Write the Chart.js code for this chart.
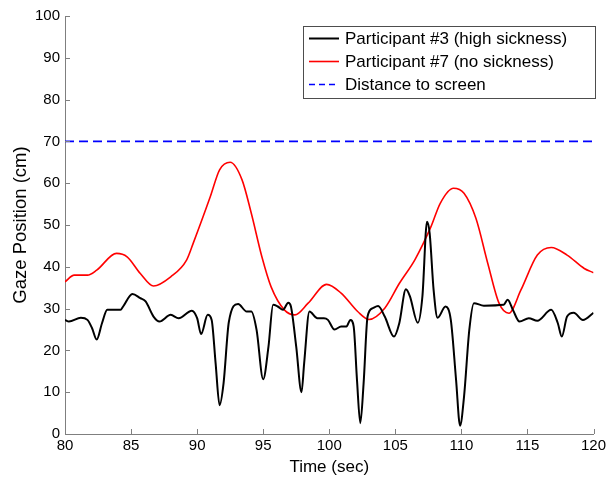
<!DOCTYPE html>
<html>
<head>
<meta charset="utf-8">
<script src="https://cdn.jsdelivr.net/npm/chart.js@4/dist/chart.umd.min.js"></script>
<style>
  html, body { margin: 0; padding: 0; background: #fff; }
  #wrap { width: 609px; height: 479px; }
</style>
</head>
<body>
<div id="wrap"><canvas id="c" width="609" height="479"></canvas></div>
<script>
// ---- data ----
const blackTime = [80.0, 80.3, 81.2, 81.7, 82.05, 82.4, 82.8, 83.2, 84.2, 84.4, 85.1, 85.7, 86.1, 86.7, 87.15, 88.0, 88.6, 89.6, 90.0, 90.3, 90.8, 91.1, 91.4, 91.7, 92.0, 92.4, 93.1, 93.75, 94.1, 94.5, 95.0, 95.4, 95.75, 96.1, 96.5, 96.9, 97.1, 97.5, 97.9, 98.1, 98.5, 99.1, 99.6, 99.9, 100.4, 100.9, 101.3, 101.6, 101.85, 102.1, 102.35, 102.6, 102.9, 103.3, 103.7, 104.2, 104.9, 105.3, 105.8, 106.1, 106.7, 107.05, 107.4, 107.6, 107.9, 108.2, 108.8, 109.2, 109.6, 109.9, 110.2, 110.6, 110.95, 111.7, 113.2, 113.5, 113.9, 114.4, 115.1, 115.75, 116.8, 117.3, 117.6, 118.0, 118.5, 119.2, 120.0];
const blackGaze = [27.3, 26.9, 27.8, 27.3, 25.3, 22.6, 26.5, 29.7, 29.7, 30.5, 33.5, 32.5, 31.7, 28.1, 26.9, 28.5, 27.7, 29.5, 27.7, 23.9, 28.5, 27.3, 16.9, 6.9, 12.1, 26.8, 31.1, 29.3, 29.3, 24.9, 13.1, 20.9, 30.9, 30.5, 29.7, 31.4, 30.5, 20.9, 10.0, 16.9, 29.3, 27.7, 27.7, 27.3, 25.0, 25.7, 25.7, 27.3, 25.7, 12.9, 2.6, 12.1, 28.1, 30.1, 30.6, 28.1, 23.3, 26.5, 34.6, 33.0, 26.6, 32.9, 50.8, 48.0, 34.4, 27.8, 30.5, 27.3, 12.9, 2.0, 8.9, 24.9, 31.3, 30.7, 30.9, 32.1, 29.7, 26.9, 27.7, 27.1, 29.7, 26.5, 23.3, 28.1, 29.0, 27.3, 29.0];

const redTime = [80.0, 80.7, 81.7, 82.4, 83.9, 84.7, 85.7, 86.7, 88.0, 89.2, 89.7, 91.0, 91.7, 92.5, 93.4, 94.1, 94.9, 95.6, 96.6, 97.4, 98.4, 99.8, 100.9, 102.15, 103.0, 104.2, 105.3, 106.5, 107.7, 108.4, 109.4, 110.2, 111.1, 112.0, 112.85, 113.6, 114.5, 115.75, 116.8, 118.0, 119.3, 120.0];
const redGaze = [36.4, 38.0, 38.0, 39.2, 43.2, 42.4, 38.4, 35.4, 37.6, 41.6, 45.6, 56.8, 63.2, 65.0, 60.8, 52.8, 42.4, 35.2, 29.7, 28.5, 31.3, 35.8, 33.7, 29.3, 27.4, 30.1, 36.0, 41.8, 49.6, 55.2, 58.8, 57.6, 51.6, 40.8, 31.3, 28.9, 34.4, 42.8, 44.6, 42.8, 39.6, 38.6];

const screenTime = [80, 120];
const screenGaze = [70, 70];

const seriesLabels = ["Participant #3 (high sickness)", "Participant #7 (no sickness)", "Distance to screen"];
const xTicks = [80, 85, 90, 95, 100, 105, 110, 115, 120];
const yTicks = [0, 10, 20, 30, 40, 50, 60, 70, 80, 90, 100];
const xTitle = "Time (sec)";
const yTitle = "Gaze Position (cm)";

const toPts = (xs, ys) => xs.map((x, i) => ({ x: x, y: ys[i] }));

const FONT = "'Liberation Sans', Arial, Helvetica, sans-serif";
const AXIS_COLOR = '#7f7f7f';

const inwardTicks = {
  id: 'inwardTicks',
  afterDraw(chart) {
    const { ctx, chartArea, scales } = chart;
    ctx.save();
    ctx.strokeStyle = AXIS_COLOR;
    ctx.lineWidth = 1;
    ctx.beginPath();
    xTicks.forEach(v => {
      const px = Math.round(scales.x.getPixelForValue(v)) + 0.5;
      ctx.moveTo(px, chartArea.bottom);
      ctx.lineTo(px, chartArea.bottom - 5);
    });
    yTicks.forEach(v => {
      const py = Math.round(scales.y.getPixelForValue(v)) + 0.5;
      ctx.moveTo(chartArea.left, py);
      ctx.lineTo(chartArea.left + 5, py);
    });
    ctx.stroke();
    ctx.restore();
  }
};

const boxLegend = {
  id: 'boxLegend',
  afterDatasetsDraw(chart) {
    const { ctx } = chart;
    const bx = 303.5, by = 26.5, bw = 292, bh = 72;
    ctx.save();
    ctx.fillStyle = '#ffffff';
    ctx.fillRect(bx, by, bw, bh);
    ctx.strokeStyle = '#4d4d4d';
    ctx.lineWidth = 1;
    ctx.strokeRect(bx, by, bw, bh);
    const rows = [38, 61, 84];
    chart.data.datasets.forEach((ds, i) => {
      const y = rows[i] + 0.5;
      ctx.beginPath();
      ctx.strokeStyle = ds.borderColor;
      ctx.lineWidth = ds.borderWidth;
      ctx.setLineDash(ds.borderDash && ds.borderDash.length ? [6, 4] : []);
      ctx.moveTo(309, y);
      ctx.lineTo(339, y);
      ctx.stroke();
      ctx.setLineDash([]);
      ctx.fillStyle = '#000';
      ctx.font = "17px " + FONT;
      ctx.textBaseline = 'middle';
      ctx.textAlign = 'left';
      ctx.fillText(ds.label, 345, rows[i] + 1);
    });
    ctx.restore();
  }
};

new Chart(document.getElementById('c'), {
  type: 'line',
  data: {
    datasets: [
      {
        label: seriesLabels[0],
        data: toPts(blackTime, blackGaze),
        borderColor: '#000000',
        borderWidth: 2,
        pointRadius: 0,
        cubicInterpolationMode: 'monotone',
        fill: false
      },
      {
        label: seriesLabels[1],
        data: toPts(redTime, redGaze),
        borderColor: '#ff0000',
        borderWidth: 1.6,
        pointRadius: 0,
        cubicInterpolationMode: 'monotone',
        fill: false
      },
      {
        label: seriesLabels[2],
        data: toPts(screenTime, screenGaze),
        borderColor: '#0000ff',
        borderWidth: 1.6,
        borderDash: [9, 5],
        pointRadius: 0,
        fill: false
      }
    ]
  },
  options: {
    responsive: false,
    animation: false,
    events: [],
    layout: { padding: { top: 16, right: 15.5, left: 0, bottom: 0 } },
    plugins: {
      legend: { display: false },
      tooltip: { enabled: false }
    },
    scales: {
      x: {
        type: 'linear',
        min: 80,
        max: 120,
        afterFit(scale) { scale.height = 45; scale.paddingLeft = 0; scale.paddingRight = 0; },
        afterBuildTicks(scale) { scale.ticks = xTicks.map(v => ({ value: v })); },
        grid: { display: false, drawTicks: false },
        border: { display: true, color: AXIS_COLOR, width: 1 },
        ticks: {
          color: '#000',
          padding: 3,
          maxRotation: 0,
          autoSkip: false,
          font: { family: FONT, size: 15 }
        },
        title: {
          display: true,
          text: xTitle,
          color: '#000',
          font: { family: FONT, size: 17 },
          padding: { top: 0, bottom: 1 }
        }
      },
      y: {
        type: 'linear',
        min: 0,
        max: 100,
        afterFit(scale) { scale.width = 65; scale.paddingTop = 0; scale.paddingBottom = 0; },
        afterBuildTicks(scale) { scale.ticks = yTicks.map(v => ({ value: v })); },
        grid: { display: false, drawTicks: false },
        border: { display: true, color: AXIS_COLOR, width: 1 },
        ticks: {
          color: '#000',
          padding: 5,
          autoSkip: false,
          font: { family: FONT, size: 15 }
        },
        title: {
          display: true,
          text: yTitle,
          color: '#000',
          font: { family: FONT, size: 18.5 },
          padding: { top: 10, bottom: 0 }
        }
      }
    }
  },
  plugins: [inwardTicks, boxLegend]
});
</script>
</body>
</html>
